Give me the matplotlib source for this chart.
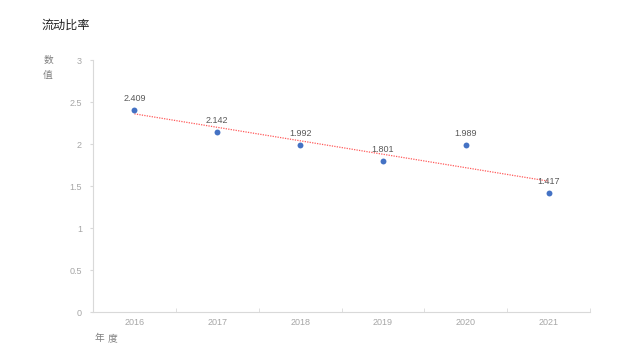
import matplotlib
matplotlib.use("Agg")
import matplotlib.pyplot as plt
import numpy as np

plt.rcParams['font.family'] = ['Noto Sans CJK SC', 'DejaVu Sans']

years = ['2016', '2017', '2018', '2019', '2020', '2021']
values = [2.409, 2.142, 1.992, 1.801, 1.989, 1.417]
yticks = [0, 0.5, 1, 1.5, 2, 2.5, 3]
ytick_labels = ['0', '0.5', '1', '1.5', '2', '2.5', '3']

fig = plt.figure(figsize=(6.4, 3.6), dpi=100)
ax = fig.add_axes([93/640, 1-312/360, (590-93)/640, (312-60)/360])

x = np.arange(len(years))
ax.scatter(x, values, s=18, color='#4472C4', zorder=3, linewidths=0)
for xi, v in zip(x, values):
    ax.annotate(f'{v}', (xi, v), xytext=(0, 5),
                textcoords='offset points', ha='center', va='bottom',
                fontsize=6.5, color='#595959', family=['Liberation Sans', 'DejaVu Sans'])

coef = np.polyfit(x, values, 1)
ax.plot(x, np.polyval(coef, x), linestyle=(0, (1, 1)), color='#FF5A5A', linewidth=0.9, zorder=2)

ax.set_xlim(-0.5, len(years) - 0.5)
ax.set_ylim(0, 3)
ax.set_xticks(x)
ax.set_xticklabels(years)
ax.set_xticks(np.arange(-0.5, len(years), 1), minor=True)
ax.tick_params(axis='x', which='major', length=0, pad=4, labelsize=6.5, labelcolor='#A6A6A6')
ax.tick_params(axis='x', which='minor', length=3, color='#D9D9D9', direction='in')
ax.set_yticks(yticks)
ax.set_yticklabels(ytick_labels)
ax.tick_params(axis='y', length=2, color='#D9D9D9', labelsize=6.5, labelcolor='#A6A6A6', pad=6)
for lab in ax.get_xticklabels() + ax.get_yticklabels():
    lab.set_family(['Liberation Sans', 'DejaVu Sans'])

for s in ['top', 'right']:
    ax.spines[s].set_visible(False)
for s in ['left', 'bottom']:
    ax.spines[s].set_color('#D9D9D9')
    ax.spines[s].set_linewidth(0.8)

fig.text(42/640, 1-25/360, '流动比率', fontsize=8.7, color='#222222', va='center', ha='left')
fig.text(48/640, 1-60/360, '数', fontsize=7, color='#7F7F7F', va='center', ha='center')
fig.text(48/640, 1-75/360, '值', fontsize=7, color='#7F7F7F', va='center', ha='center')
fig.text(99/640, 1-338/360, '年', fontsize=7, color='#7F7F7F', va='center', ha='center')
fig.text(113/640, 1-338/360, '度', fontsize=7, color='#7F7F7F', va='center', ha='center')

fig.savefig('out.png', dpi=100)
